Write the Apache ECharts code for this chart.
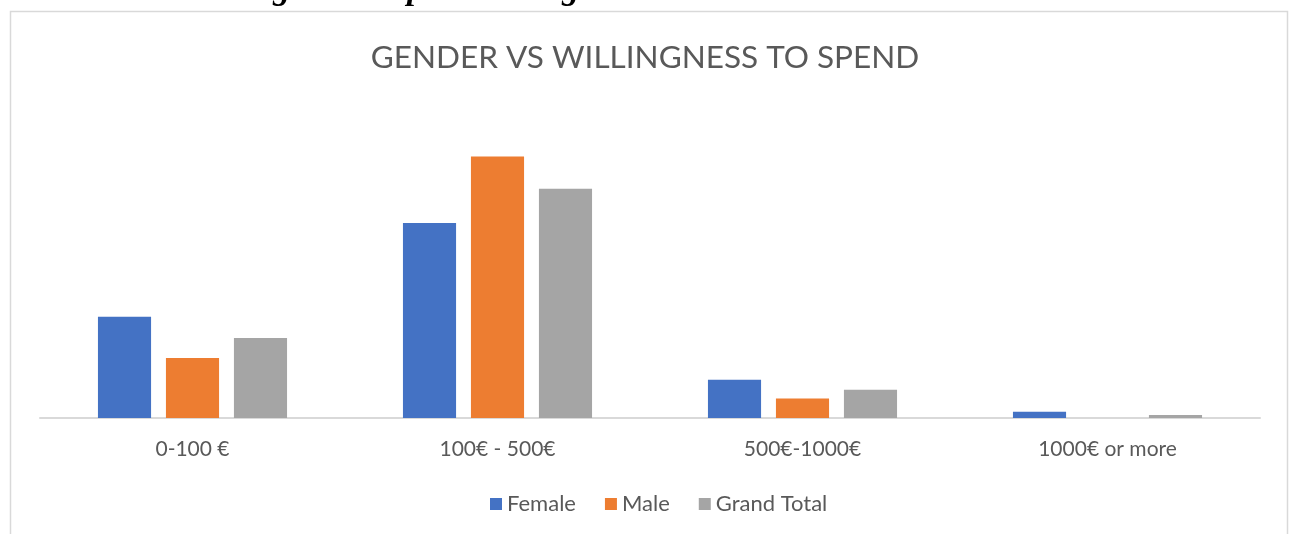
<!DOCTYPE html>
<html>
<head>
<meta charset="utf-8">
<script src="https://cdn.jsdelivr.net/npm/echarts@6/dist/echarts.min.js"></script>
<style>
  html, body { margin: 0; padding: 0; background: #fff; }
  #chart { width: 1290px; height: 534px; }
</style>
</head>
<body>
<div id="chart"></div>
<script>
// share of each gender per price range (%)
const categories = ['0-100 €', '100€ - 500€', '500€-1000€', '1000€ or more']
const female = [29.7, 57.3, 11.2, 1.85]
const male = [17.6, 76.8, 5.7, 0]
const grandTotal = [23.5, 67.3, 8.3, 0.9]

const chart = echarts.init(document.getElementById('chart'))

const textColor = '#595959'
const font = 'Lato, "Open Sans", sans-serif'

chart.setOption({
  backgroundColor: '#fff',
  animation: false,
  title: {
    text: 'GENDER VS WILLINGNESS TO SPEND',
    left: 'center',
    top: 37,
    textStyle: {
      fontFamily: font,
      fontSize: 31.5,
      fontWeight: 'normal',
      color: textColor
    }
  },
  graphic: [
    {
      type: 'rect',
      shape: { x: 10.5, y: 11.5, width: 1277, height: 540 },
      style: { fill: 'none', stroke: '#d9d9d9', lineWidth: 1.5 },
      silent: true
    },
    {
      type: 'text',
      left: 25,
      top: -27,
      style: {
        text: 'Gender VS Willingness to spend on bag Prices',
        font: 'italic bold 34px "Liberation Serif", serif',
        fill: '#000'
      },
      silent: true
    }
  ],
  legend: {
    bottom: 14,
    left: 485,
    itemWidth: 12,
    itemHeight: 12,
    itemGap: 29,
    icon: 'rect',
    textStyle: {
      fontFamily: font,
      fontSize: 22,
      color: textColor
    },
    data: ['Female', 'Male', 'Grand Total']
  },
  grid: {
    left: 40,
    right: 30,
    top: 145.6,
    bottom: 116
  },
  xAxis: {
    type: 'category',
    data: categories,
    axisTick: { show: false },
    axisLine: { lineStyle: { color: '#d9d9d9', width: 2 } },
    axisLabel: {
      margin: 21,
      fontFamily: font,
      fontSize: 21,
      color: textColor
    }
  },
  yAxis: {
    type: 'value',
    min: 0,
    max: 80,
    show: false,
    splitLine: { show: false }
  },
  series: [
    {
      name: 'Female',
      type: 'bar',
      data: female,
      barGap: '28%',
      barCategoryGap: '38%',
      itemStyle: { color: '#4472C4' }
    },
    {
      name: 'Male',
      type: 'bar',
      data: male,
      itemStyle: { color: '#ED7D31' }
    },
    {
      name: 'Grand Total',
      type: 'bar',
      data: grandTotal,
      itemStyle: { color: '#A5A5A5' }
    }
  ]
})
</script>
</body>
</html>
